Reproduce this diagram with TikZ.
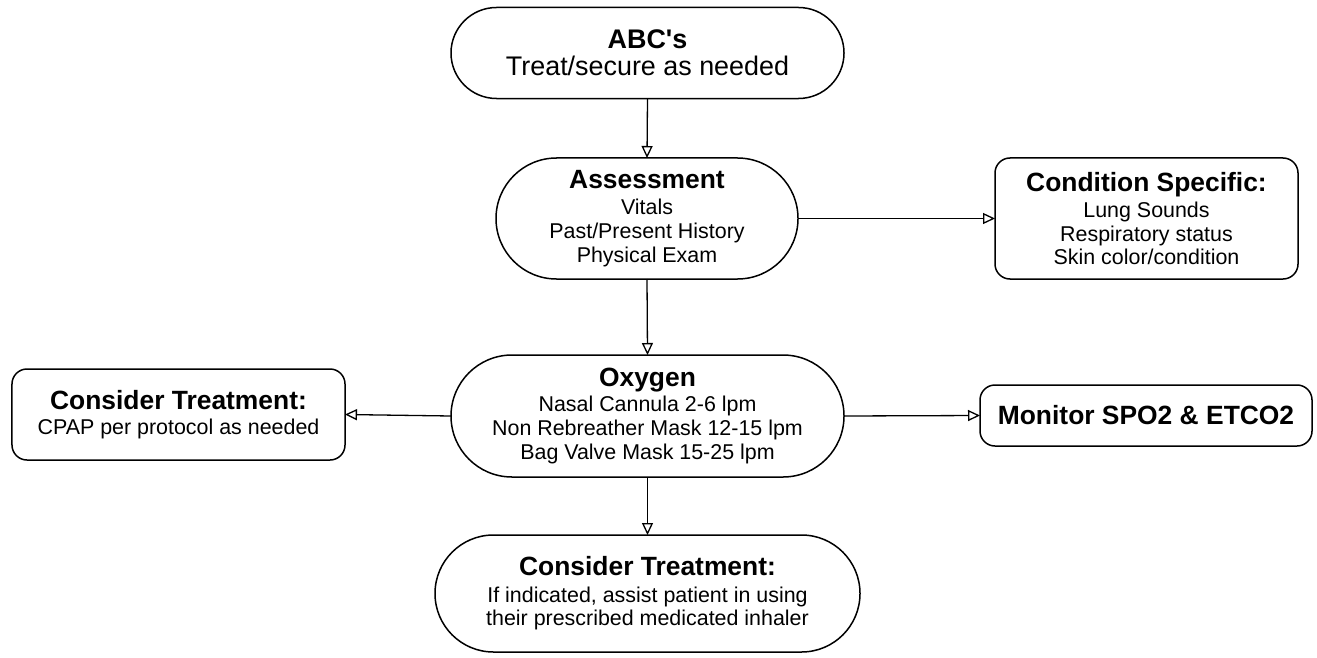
\documentclass[tikz,border=0pt]{standalone}
\usepackage{fontspec}
\setmainfont{Liberation Sans}
\newfontfamily\plainarial{Liberation Sans}
\usetikzlibrary{arrows.meta}
\newcommand{\tfont}{\fontsize{26.5}{27}\selectfont\bfseries}
\newcommand{\bfontx}{\fontsize{21.5}{23.7}\selectfont}
\begin{document}
\begin{tikzpicture}[x=1bp,y=-1bp,
  every node/.style={inner sep=0pt, outer sep=0pt, line width=1.5bp, align=center},
  term/.style={draw, rounded corners=#1},
  rbox/.style={draw, rounded corners=15bp},
  conn/.style={line width=1.3bp, -{Triangle[open, length=12bp, width=11bp, line width=1.3bp]}}
]
\useasboundingbox[fill=white] (0,0) rectangle (1317,658);
\node[term=45.5bp, minimum width=393bp, minimum height=91bp, font=\fontsize{27}{27}\selectfont] (abc) at (647.5,53)
  {{\plainarial\bfseries ABC's}\\Treat/secure as needed};
\node[term=60.5bp, minimum width=302bp, minimum height=121bp, font=\bfontx] (ass) at (647,218.5)
  {{\tfont Assessment}\\[2.5bp]Vitals\\Past/Present History\\Physical Exam};
\node[rbox, minimum width=303bp, minimum height=121bp, font=\bfontx] (cond) at (1146.5,218.5)
  {{\tfont Condition Specific:}\\[2.5bp]Lung Sounds\\Respiratory status\\Skin color/condition};
\node[term=61bp, minimum width=393bp, minimum height=122bp, font=\bfontx] (oxy) at (647.5,416)
  {{\tfont Oxygen}\\[1.5bp]Nasal Cannula 2-6 lpm\\Non Rebreather Mask 12-15 lpm\\Bag Valve Mask 15-25 lpm};
\node[rbox, minimum width=333bp, minimum height=91bp, font=\bfontx] (cpap) at (178.5,414.5)
  {{\tfont Consider Treatment:}\\[0.8bp]CPAP per protocol as needed};
\node[rbox, minimum width=332bp, minimum height=61bp, font=\tfont] (mon) at (1146,415.5)
  {Monitor SPO2 \& ETCO2};
\node[term=58.5bp, minimum width=425bp, minimum height=117bp, font=\bfontx] (inh) at (647.5,593.5)
  {{\tfont Consider Treatment:}\\[3bp]If indicated, assist patient in using\\their prescribed medicated inhaler};
\draw[conn] (abc.south) -- (ass.north);
\draw[conn] (ass.east) -- (cond.west);
\draw[conn] (ass.south) -- (oxy.north);
\draw[conn] (oxy.west) -- (cpap.east);
\draw[conn] (oxy.east) -- (mon.west);
\draw[conn] (oxy.south) -- (inh.north);
\end{tikzpicture}
\end{document}
